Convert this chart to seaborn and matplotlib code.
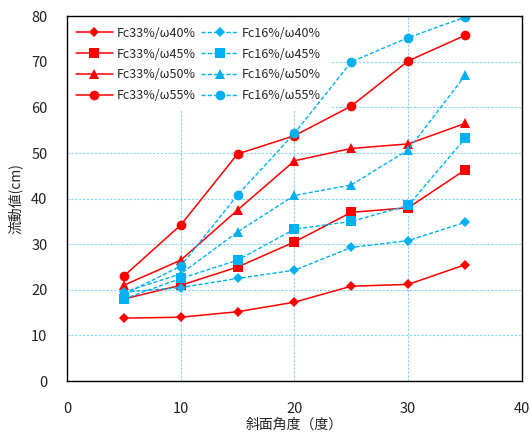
import matplotlib
matplotlib.use("Agg")
import matplotlib.pyplot as plt
import seaborn as sns
import pandas as pd

angles = [5, 10, 15, 20, 25, 30, 35]
fc33_w40 = [13.8, 14.0, 15.2, 17.3, 20.8, 21.2, 25.5]
fc33_w45 = [18.0, 21.0, 25.0, 30.5, 37.0, 38.0, 46.3]
fc33_w50 = [21.0, 26.5, 37.5, 48.3, 51.0, 52.0, 56.5]
fc33_w55 = [23.0, 34.2, 49.8, 53.8, 60.3, 70.2, 75.8]
fc16_w40 = [19.5, 20.5, 22.5, 24.3, 29.3, 30.8, 34.8]
fc16_w45 = [18.0, 22.5, 26.5, 33.3, 35.0, 38.5, 53.2]
fc16_w50 = [19.5, 23.5, 32.7, 40.7, 43.0, 50.7, 67.0]
fc16_w55 = [19.0, 25.2, 40.8, 54.3, 70.0, 75.3, 79.8]

labels = ["Fc33%/ω40%", "Fc33%/ω45%", "Fc33%/ω50%", "Fc33%/ω55%",
          "Fc16%/ω40%", "Fc16%/ω45%", "Fc16%/ω50%", "Fc16%/ω55%"]
series = [fc33_w40, fc33_w45, fc33_w50, fc33_w55,
          fc16_w40, fc16_w45, fc16_w50, fc16_w55]

sns.set_theme(style="white")
plt.rcParams['font.family'] = ['Noto Sans CJK JP', 'DejaVu Sans']

fig = plt.figure(figsize=(5.31, 4.38), dpi=100)
ax = fig.add_axes([0.126, 0.130, 0.857, 0.833])

red = "#FF0000"
cyan = "#00B0F0"
markers = ["D", "s", "^", "o"]
msizes = [5.2, 7, 7, 7]

for i, (lab, vals) in enumerate(zip(labels, series)):
    df = pd.DataFrame({"x": angles, "y": vals})
    grp = i // 4
    k = i % 4
    sns.lineplot(data=df, x="x", y="y", ax=ax, label=lab,
                 color=red if grp == 0 else cyan,
                 linestyle="-" if grp == 0 else (0, (3, 1.5)),
                 linewidth=1.1 if grp == 0 else 1.0,
                 marker=markers[k], markersize=msizes[k],
                 markeredgewidth=0, zorder=3)

ax.set_xlim(0, 40)
ax.set_ylim(0, 80)
ax.set_xticks([0, 10, 20, 30, 40])
ax.set_yticks(range(0, 81, 10))
ax.grid(True, color="#7FD4F5", linestyle=(0, (2, 1.5)), linewidth=0.8)
ax.tick_params(axis="both", length=0, labelsize=10.5, colors="#222222")
ax.tick_params(axis="x", pad=15)
ax.tick_params(axis="y", pad=14)
for s in ax.spines.values():
    s.set_color("black")
    s.set_linewidth(1.0)
    s.set_zorder(4)

ax.set_xlabel("斜面角度（度）", fontsize=10, labelpad=1)
ax.set_ylabel("流動値(cm)", fontsize=10, labelpad=6)

leg = ax.legend(ncol=2, loc="upper left", bbox_to_anchor=(0.0, 0.995),
                frameon=True, fontsize=9, handlelength=3.0,
                columnspacing=0.4, handletextpad=0.3, labelspacing=0.62,
                borderaxespad=0.3, borderpad=0.4)
leg.get_frame().set_edgecolor("none")
leg.get_frame().set_facecolor("white")
leg.get_frame().set_alpha(1.0)
leg.get_frame().set_boxstyle("square")
leg.set_zorder(2.2)

fig.savefig("out.png", dpi=100)
